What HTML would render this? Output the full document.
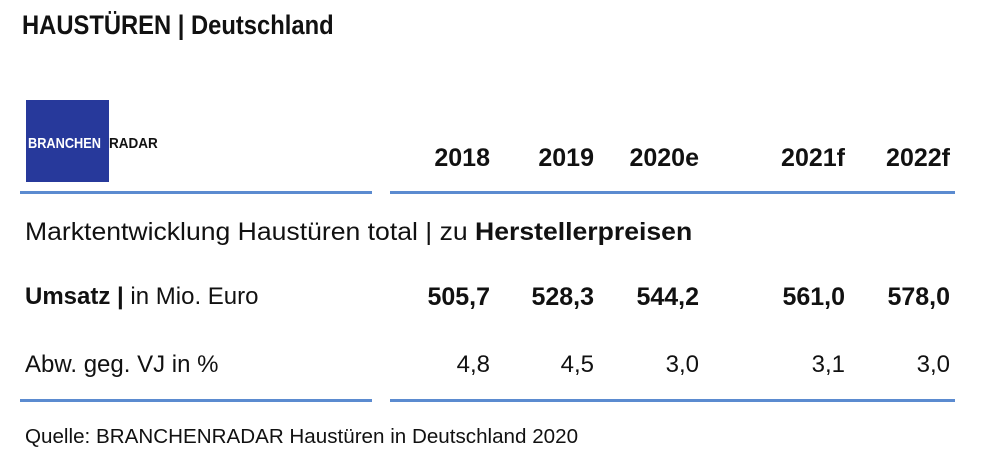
<!DOCTYPE html>
<html><head><meta charset="utf-8"><style>
body{margin:0;width:983px;height:460px;background:#fff;position:relative;overflow:hidden;font-family:"Liberation Sans",sans-serif;color:#111}
.a{position:absolute;white-space:nowrap;line-height:1}
.r{text-align:right}
.b{font-weight:bold}
.line{position:absolute;height:3px;background:#5b8bd0}
</style></head><body>
<div class="a b" style="left:22px;top:12px;font-size:27px;transform:scaleX(0.88);transform-origin:0 0">HAUSTÜREN | Deutschland</div>
<div style="position:absolute;left:26px;top:100px;width:83px;height:82px;background:#27399b"></div>
<div class="a b" style="left:28px;top:136px;font-size:15px;color:#fff;transform:scaleX(0.85);transform-origin:0 0">BRANCHEN</div>
<div class="a b" style="left:109px;top:136px;font-size:15px;color:#111;transform:scaleX(0.9);transform-origin:0 0">RADAR</div>
<div class="a b r" style="left:390px;width:100px;top:146px;font-size:25px">2018</div>
<div class="a b r" style="left:494px;width:100px;top:146px;font-size:25px">2019</div>
<div class="a b r" style="left:599px;width:100px;top:146px;font-size:25px">2020e</div>
<div class="a b r" style="left:745px;width:100px;top:146px;font-size:25px">2021f</div>
<div class="a b r" style="left:850px;width:100px;top:146px;font-size:25px">2022f</div>
<div class="line" style="left:20px;width:352px;top:191px"></div>
<div class="line" style="left:390px;width:565px;top:191px"></div>
<div class="a" style="left:25px;top:220px;font-size:25px;transform:scaleX(1.063);transform-origin:0 0">Marktentwicklung Haustüren total | zu <b>Herstellerpreisen</b></div>
<div class="a" style="left:25px;top:285px;font-size:24px"><b>Umsatz |</b> in Mio. Euro</div>
<div class="a b r" style="left:390px;width:100px;top:285px;font-size:25px">505,7</div>
<div class="a b r" style="left:494px;width:100px;top:285px;font-size:25px">528,3</div>
<div class="a b r" style="left:599px;width:100px;top:285px;font-size:25px">544,2</div>
<div class="a b r" style="left:745px;width:100px;top:285px;font-size:25px">561,0</div>
<div class="a b r" style="left:850px;width:100px;top:285px;font-size:25px">578,0</div>
<div class="a" style="left:25px;top:353px;font-size:24px">Abw. geg. VJ in %</div>
<div class="a r" style="left:390px;width:100px;top:353px;font-size:24px">4,8</div>
<div class="a r" style="left:494px;width:100px;top:353px;font-size:24px">4,5</div>
<div class="a r" style="left:599px;width:100px;top:353px;font-size:24px">3,0</div>
<div class="a r" style="left:745px;width:100px;top:353px;font-size:24px">3,1</div>
<div class="a r" style="left:850px;width:100px;top:353px;font-size:24px">3,0</div>
<div class="line" style="left:20px;width:352px;top:399px"></div>
<div class="line" style="left:390px;width:565px;top:399px"></div>
<div class="a" style="left:25px;top:427px;font-size:20px;transform:scaleX(1.03);transform-origin:0 0">Quelle: BRANCHENRADAR Haustüren in Deutschland 2020</div>
</body></html>
